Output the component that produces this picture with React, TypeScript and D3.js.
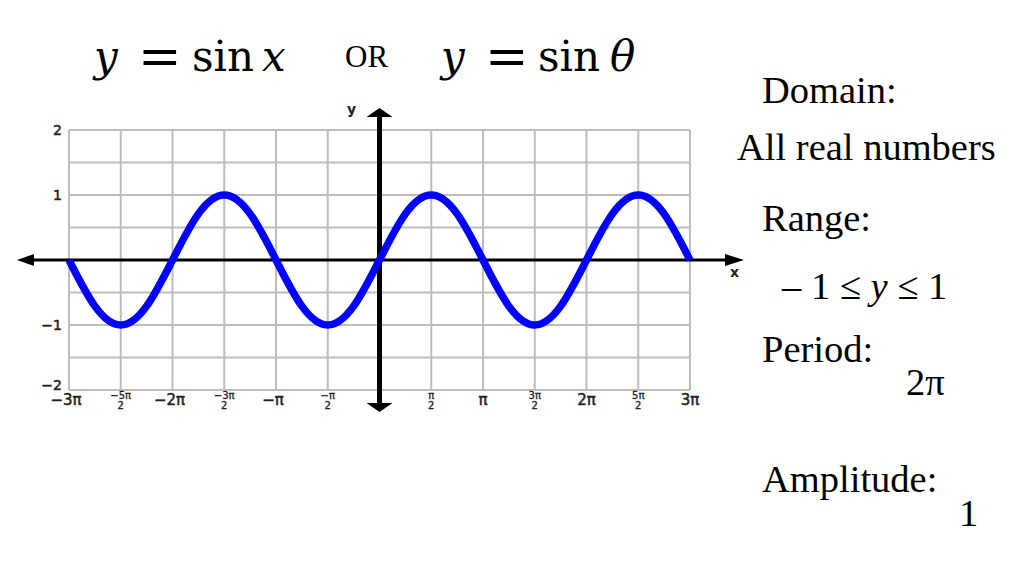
import React from 'react';
import { scaleLinear, line, curveNatural } from 'd3';

// x values are in units of π
const curveX = [-3, -2.75, -2.5, -2.25, -2, -1.75, -1.5, -1.25, -1, -0.75, -0.5, -0.25, 0,
  0.25, 0.5, 0.75, 1, 1.25, 1.5, 1.75, 2, 2.25, 2.5, 2.75, 3];
const curveY = [0, -0.71, -1, -0.71, 0, 0.71, 1, 0.71, 0, -0.71, -1, -0.71, 0,
  0.71, 1, 0.71, 0, -0.71, -1, -0.71, 0, 0.71, 1, 0.71, 0];

const xGrid = [-3, -2.5, -2, -1.5, -1, -0.5, 0, 0.5, 1, 1.5, 2, 2.5, 3];
const yGrid = [-2, -1.5, -1, -0.5, 0, 0.5, 1, 1.5, 2];

const yTicks = [2, 1, -1, -2];
const yTickLabels = ['2', '1', '−1', '−2'];

// whole-number tick labels and fraction tick labels
const xWholeTicks = [-3, -2, -1, 1, 2, 3];
const xWholeLabels = ['−3π', '−2π', '−π', 'π', '2π', '3π'];
const xFracTicks = [-2.5, -1.5, -0.5, 0.5, 1.5, 2.5];
const xFracNums = ['−5π', '−3π', '−π', 'π', '3π', '5π'];

const sideLines = [
  { text: 'Domain:', x: 762, y: 103 },
  { text: 'All real numbers', x: 737, y: 160 },
  { text: 'Range:', x: 762, y: 231 },
  { text: 'Period:', x: 762, y: 362 },
  { text: '2π', x: 906, y: 395 },
  { text: 'Amplitude:', x: 762, y: 492 },
  { text: '1', x: 959, y: 526 },
];

const App: React.FC = () => {
  const x = scaleLinear().domain([-3, 3]).range([69, 690]);
  const y = scaleLinear().domain([-2, 2]).range([390, 130]);

  const pts = curveX.map((v, i) => [v, curveY[i]] as [number, number]);
  const path = line<[number, number]>()
    .x(d => x(d[0]))
    .y(d => y(d[1]))
    .curve(curveNatural)(pts) || '';

  const x0 = x(0);
  const y0 = y(0);
  const tickFont = 'DejaVu Sans, sans-serif';
  const serif = 'Liberation Serif, Times New Roman, serif';
  const math = 'DejaVu Serif, serif';

  return (
    <svg width={1024} height={576} style={{ position: 'absolute', left: 0, top: 0, background: '#fff' }}>
      {/* title */}
      <g fontFamily={math} fontSize={42} fill="#000">
        <text x={94} y={71} fontStyle="italic">y</text>
        <text x={138} y={74} fontSize={52}>=</text>
        <text x={192} y={71}>sin</text>
        <text x={262} y={71} fontStyle="italic">x</text>
        <text x={441} y={71} fontStyle="italic">y</text>
        <text x={485} y={74} fontSize={52}>=</text>
        <text x={538} y={71}>sin</text>
        <text x={610} y={71} fontStyle="italic">θ</text>
      </g>
      <text x={345} y={67} fontFamily={serif} fontSize={31} fill="#000">OR</text>

      {/* grid */}
      <g stroke="#bdbdbd" strokeWidth={2}>
        {xGrid.map(v => (
          <line key={'gx' + v} x1={x(v)} x2={x(v)} y1={y(2)} y2={y(-2)} />
        ))}
        {yGrid.map(v => (
          <line key={'gy' + v} x1={x(-3)} x2={x(3)} y1={y(v)} y2={y(v)} />
        ))}
      </g>

      {/* axes */}
      <line x1={28} x2={730} y1={y0} y2={y0} stroke="#000" strokeWidth={3} />
      <path d={`M17,${y0} L34,${y0 - 6} L34,${y0 + 6} Z`} fill="#000" />
      <path d={`M744,${y0} L725,${y0 - 6} L725,${y0 + 6} Z`} fill="#000" />
      <line x1={x0} x2={x0} y1={114} y2={406} stroke="#000" strokeWidth={5} />
      <path d={`M${x0},108 L${x0 - 13},117 L${x0 + 13},117 Z`} fill="#000" />
      <path d={`M${x0},412 L${x0 - 13},403 L${x0 + 13},403 Z`} fill="#000" />
      <text x={347} y={114} fontFamily={tickFont} fontSize={14} fontWeight="bold" fill="#222">y</text>
      <text x={730} y={277} fontFamily={tickFont} fontSize={14} fontWeight="bold" fill="#222">x</text>

      {/* sine curve */}
      <path d={path} fill="none" stroke="#0000ff" strokeWidth={7.5} />

      {/* y tick labels */}
      {yTicks.map((v, i) => (
        <text key={'yt' + v} x={62} y={y(v) + (v === -2 ? 0 : 5)} textAnchor="end"
          fontFamily={tickFont} fontSize={14} fill="#222" stroke="#222" strokeWidth={0.5}>
          {yTickLabels[i]}
        </text>
      ))}

      {/* x tick labels */}
      {xWholeTicks.map((v, i) => (
        <text key={'xw' + v} x={x(v) + (v < 0 ? -3 : 0)} y={405} textAnchor="middle"
          fontFamily={tickFont} fontSize={15} fill="#222" stroke="#222" strokeWidth={0.5}>
          {xWholeLabels[i]}
        </text>
      ))}
      {xFracTicks.map((v, i) => (
        <g key={'xf' + v} fontFamily={tickFont} fontSize={10} fill="#222" stroke="#222" strokeWidth={0.3} textAnchor="middle">
          <text x={x(v)} y={399}>{xFracNums[i]}</text>
          <text x={x(v)} y={409}>2</text>
        </g>
      ))}

      {/* side notes */}
      {sideLines.map(d => (
        <text key={d.text} x={d.x} y={d.y} fontFamily={serif} fontSize={38.5} fill="#000">{d.text}</text>
      ))}
      <text x={782} y={299} fontFamily={serif} fontSize={38.5} fill="#000">
        <tspan>– 1 ≤ </tspan>
        <tspan fontStyle="italic">y</tspan>
        <tspan> ≤ 1</tspan>
      </text>
    </svg>
  );
};

export default App;
